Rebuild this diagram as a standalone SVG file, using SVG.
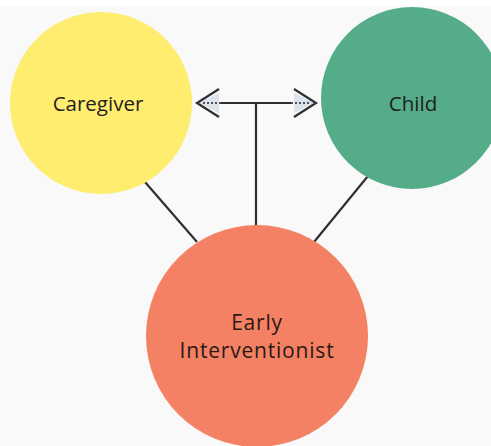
<svg xmlns="http://www.w3.org/2000/svg" width="491" height="446" viewBox="0 0 491 446">
<style>
.lbl{font-family:"Open Sans","Liberation Sans",sans-serif;font-size:20.5px;fill:#1e1e1e;text-anchor:middle}
.ei{font-family:"Open Sans","Liberation Sans",sans-serif;font-size:21px;letter-spacing:0.8px;fill:#2a1a14;text-anchor:middle}
.ln{stroke:#2f2f2f;stroke-width:2.2;fill:none}
</style>
<rect width="491" height="446" fill="#f9f9f9"/>
<rect width="491" height="6" fill="#ffffff"/>
<g id="connectors">
<line class="ln" x1="145" y1="182" x2="197" y2="242"/>
<line class="ln" x1="368" y1="176" x2="314" y2="242"/>
<line class="ln" x1="256" y1="103" x2="256" y2="227"/>
<line class="ln" x1="221" y1="103" x2="291" y2="103"/>
<polygon points="198,103 219,93 219,113" fill="#dde3ea"/>
<polygon points="315,103 294,93 294,113" fill="#dde3ea"/>
<line x1="203" y1="103" x2="221" y2="103" stroke="#4a5560" stroke-width="2" stroke-dasharray="2,2"/>
<line x1="291" y1="103" x2="310" y2="103" stroke="#4a5560" stroke-width="2" stroke-dasharray="2,2"/>
<polyline class="ln" points="219,89 197,103 219,117"/>
<polyline class="ln" points="294,89 316,103 294,117"/>
</g>
<g id="caregiver">
<circle cx="101" cy="103" r="91" fill="#feed6f"/>
<text class="lbl" x="98" y="111">Caregiver</text>
</g>
<g id="child">
<circle cx="412" cy="98" r="91" fill="#55ac88"/>
<text class="lbl" x="413" y="111">Child</text>
</g>
<g id="early-interventionist">
<circle cx="257" cy="336" r="111" fill="#f58164"/>
<text class="ei" x="257" y="330">Early</text>
<text class="ei" x="257" y="358">Interventionist</text>
</g>
</svg>
